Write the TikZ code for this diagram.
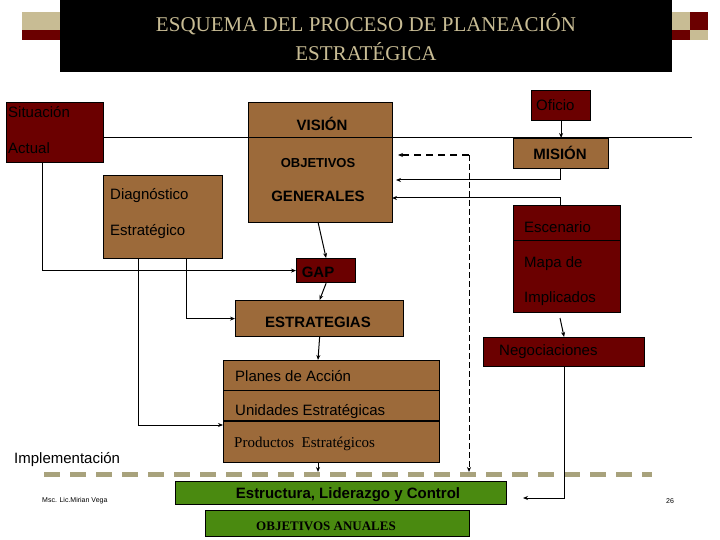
\documentclass[tikz,border=0pt]{standalone}
\usepackage{fontspec}
\setmainfont{Liberation Sans}
\newfontfamily\serif{Liberation Serif}
\usetikzlibrary{arrows.meta}
\definecolor{dred}{HTML}{6B0000}
\definecolor{brn}{HTML}{9C6A3A}
\definecolor{tan}{HTML}{C8BC94}
\definecolor{grn}{HTML}{4A8A10}
\definecolor{dashc}{HTML}{A8A27C}
\begin{document}
\begin{tikzpicture}[x=1pt,y=-1pt,
 box/.style={draw=black,line width=1.2pt,anchor=north west,inner sep=0pt},
 lbl/.style={font=\fontsize{15}{15}\selectfont,anchor=west,inner sep=0pt,text=black},
 blbl/.style={font=\bfseries\fontsize{15}{15}\selectfont,anchor=center,inner sep=0pt},
 ar/.style={-{Stealth[length=5pt,width=4pt]},line width=1pt},
 ln/.style={line width=1pt}]
\useasboundingbox (0,0) rectangle (720,540);
% title
\fill[tan] (22,12) rectangle (60,30); \fill[dred] (22,30) rectangle (60,40);
\fill[tan] (672,12) rectangle (690,30); \fill[dred] (690,12) rectangle (708,30);
\fill[dred] (672,30) rectangle (690,40); \fill[tan] (690,30) rectangle (708,40);
\node[fill=black,anchor=north west,minimum width=612pt,minimum height=72pt,inner sep=0pt] (title) at (60,0) {};
\node[text=tan,align=center,font=\serif\fontsize{21}{29}\selectfont] at (366,37) {ESQUEMA DEL PROCESO DE PLANEACIÓN\\ESTRATÉGICA};
% boxes
\node[box,fill=dred,minimum width=97pt,minimum height=60pt] (sit) at (6,102) {};
\node[lbl] at (8,112) {Situación};
\node[lbl] at (8,148) {Actual};
\node[box,fill=brn,minimum width=119pt,minimum height=83pt] (diag) at (103,175) {};
\node[lbl] at (110,196) {Diagnóstico};
\node[lbl] at (110,232) {Estratégico};
\node[box,fill=brn,minimum width=144pt,minimum height=120pt] (vis) at (248,102) {};
\node[blbl] at (322,124) {VISIÓN};
\node[blbl,font=\bfseries\fontsize{13}{13}\selectfont] at (318,163) {OBJETIVOS};
\node[blbl] at (318,196) {GENERALES};
\draw[ln] (103,138) -- (692,138);
\node[box,fill=dred,minimum width=59pt,minimum height=30pt] (ofi) at (531,90) {};
\node[lbl] at (536,105) {Oficio};
\node[box,fill=brn,minimum width=95pt,minimum height=30pt] (mis) at (513,138) {};
\node[blbl] at (560,153) {MISIÓN};
\draw[ar] (ofi.south) -- (mis.north);
\node[box,fill=dred,minimum width=107pt,minimum height=107pt] (esc) at (513,205) {};
\draw[ln] (513,240) -- (620,240);
\node[lbl] at (524,227) {Escenario};
\node[lbl] at (524,264) {Mapa de};
\node[lbl] at (524,299) {Implicados};
\node[box,fill=dred,minimum width=161pt,minimum height=29pt] (neg) at (483,337) {};
\node[lbl] at (499,352) {Negociaciones};
\coordinate (e1) at (560,318);
\draw[ar] (e1) -- (neg.north);
\node[box,fill=dred,minimum width=59pt,minimum height=24pt] (gap) at (296,258) {};
\node[blbl] at (318,272) {GAP};
\node[box,fill=brn,minimum width=168pt,minimum height=36pt] (est) at (235,300) {};
\node[blbl] at (318,322) {ESTRATEGIAS};
\node[box,fill=brn,minimum width=216pt,minimum height=102pt] (pla) at (223,360) {};
\draw[ln] (223,390) -- (439,390);
\draw[line width=1.8pt] (223,421) -- (439,421);
\node[lbl] at (235,376) {Planes de Acción};
\node[lbl] at (235,412) {Unidades Estratégicas};
\node[lbl,font=\serif\fontsize{15}{15}\selectfont] at (234,444) {Productos\ \ Estratégicos};
\node[lbl] at (14,460) {Implementación};
% dashed line
\draw[dashc,line width=5pt,dash pattern=on 16pt off 10pt] (44,474) -- (652,474);
\node[box,fill=grn,minimum width=331pt,minimum height=23pt] (estr) at (175,481) {};
\node[blbl,font=\bfseries\fontsize{15}{15}\selectfont] at (348,495) {Estructura, Liderazgo y Control};
\node[box,fill=grn,minimum width=264pt,minimum height=26pt] (oa) at (205,510) {};
\node[font=\serif\bfseries\fontsize{13}{13}\selectfont,inner sep=0pt] at (326,526) {OBJETIVOS ANUALES};
\node[font=\fontsize{7}{7}\selectfont,anchor=west,inner sep=0pt] at (42,501) {Msc. Lic.Mirian Vega};
\node[font=\fontsize{7}{7}\selectfont,anchor=west,inner sep=0pt] at (666,501) {26};
% connectors
\coordinate (c1) at (469,155);
\coordinate (c2) at (469,472);
\draw[ar] (318,222) -- (gap.north);
\draw[ar] (gap.south) -- (est.north);
\draw[ar] (est.south) -- (318,360);
\draw[ar] (318,462) -- (318,472);
\draw[ar] (42,162) |- (gap.west);
\draw[ar] (186,258) |- (est.west);
\draw[ar] (138,258) |- (223,425);
\draw[ar] (560,168) |- (396,180);
\draw[ar] (560,205) |- (392,198);
\draw[ar,dash pattern=on 6pt off 3pt] (c1) -- (c2);
\draw[ar,dash pattern=on 7pt off 5pt,line width=2pt] (c1) -- (398,155);
\draw[ar] (neg.south) |- (523,498);
\end{tikzpicture}
\end{document}
